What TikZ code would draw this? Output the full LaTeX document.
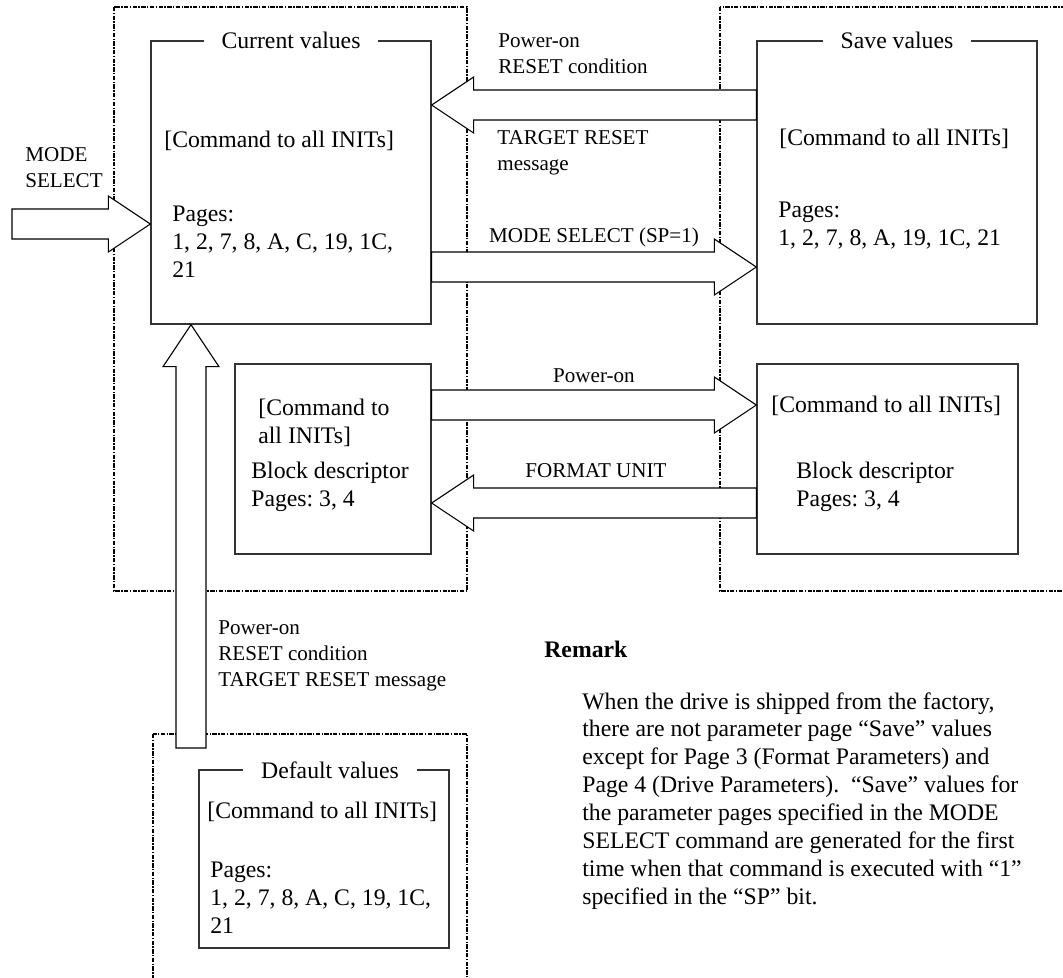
\documentclass[tikz,border=0pt]{standalone}
\usepackage{fontspec}
\setmainfont{Liberation Serif}
\usetikzlibrary{positioning}
\usetikzlibrary{calc}
\frenchspacing
\newcommand\boxfont{\fontsize{13.5}{15.9}\selectfont}
\newcommand\lblfont{\fontsize{12}{14.8}\selectfont}
\newcommand\fatarrow[2]{%
    \coordinate (fah) at ($(#2)!0.84cm!(#1)$);
    \draw[fatline] ($(#1)!0.3cm!90:(#2)$) -- ($(fah)!0.3cm!90:(#2)$) -- ($(fah)!0.56cm!90:(#2)$) -- (#2)
        -- ($(fah)!0.56cm!-90:(#2)$) -- ($(fah)!0.3cm!-90:(#2)$) -- ($(#1)!0.3cm!-90:(#2)$) -- cycle;
}
\tikzset{
    valbox/.style = {rectangle, draw=black!80, line width=0.8pt, inner sep=0pt},
    valtitle/.style = {fill=white, inner xsep=0.36cm, inner ysep=1pt, font=\boxfont},
    boxtext/.style = {anchor=west, align=left, inner sep=0pt, font=\boxfont},
    lbltext/.style = {anchor=west, align=left, inner sep=0pt, font=\lblfont},
    lblmid/.style = {inner sep=0pt, font=\lblfont},
    groupd/.style = {dash pattern=on 2.5pt off 0.8pt on 0.8pt off 0.8pt, line width=0.7pt},
    fatline/.style = {draw=black, fill=white, line width=0.6pt, line join=miter}
}
\begin{document}
\begin{tikzpicture}[x=0.02cm,y=-0.02cm]
\useasboundingbox (0,0) rectangle (1063,978);
%
\draw[groupd] (114,7) rectangle (467,591);
\draw[groupd] (720,7) rectangle (1075,591);
\draw[groupd] (153,734) rectangle (467,990);
%
\node[valbox, minimum width=5.6cm, minimum height=5.66cm] at (291,182.5) (cur) {};
\node[valbox, minimum width=5.6cm, minimum height=5.66cm] at (897,182.5) (save) {};
\node[valbox, minimum width=3.92cm, minimum height=3.8cm] at (333,459) (blkl) {};
\node[valbox, minimum width=5.22cm, minimum height=3.8cm] at (887.5,459) (blkr) {};
\node[valbox, minimum width=5cm, minimum height=3.56cm] at (324,859) (dflt) {};
%
\node[valtitle] at (cur.north) (curt) {Current values};
\node[valtitle] at (save.north) (savet) {Save values};
\node[valtitle] at (330,770) (dfltt) {Default values};
%
\node[boxtext] at (164,141) (curcmd) {[Command to all INITs]};
\node[boxtext] at (172,242) (curpg) {Pages:\\1, 2, 7, 8, A, C, 19, 1C,\\21};
\node[boxtext] at (779,139) (savecmd) {[Command to all INITs]};
\node[boxtext] at (778,226) (savepg) {Pages:\\1, 2, 7, 8, A, 19, 1C, 21};
\node[boxtext] at (258,423) (blklcmd) {[Command to\\all INITs]};
\node[boxtext] at (251,487) (blklpg) {Block descriptor\\Pages: 3, 4};
\node[boxtext] at (771,406) (blkrcmd) {[Command to all INITs]};
\node[boxtext] at (796,487) (blkrpg) {Block descriptor\\Pages: 3, 4};
\node[boxtext] at (207,812) (dfltcmd) {[Command to all INITs]};
\node[boxtext] at (210,898) (dfltpg) {Pages:\\1, 2, 7, 8, A, C, 19, 1C,\\21};
%
\node[lbltext] at (25,167.5) (msl) {MODE\\SELECT};
\node[lbltext] at (498,54) (rstl) {Power-on\\RESET condition};
\node[lbltext] at (497,153) (tgtl) {TARGET RESET\\message};
\node[lblmid] at (594,237) (spl) {MODE SELECT (SP=1)};
\node[lblmid] at (594,376) (pwrl) {Power-on};
\node[lblmid] at (596,471) (fmtl) {FORMAT UNIT};
\node[lbltext] at (218,656) (dfll) {Power-on\\RESET condition\\TARGET RESET message};
%
\node[anchor=west, inner sep=0pt, font=\boxfont\bfseries] at (544,649) (rmk) {Remark};
\node[anchor=west, align=left, inner sep=0pt, font=\fontsize{13.5}{15.9}\selectfont] at (582,801) (rmkt)
    {When the drive is shipped from the factory,\\
     there are not parameter page “Save” values\\
     except for Page 3 (Format Parameters) and\\
     Page 4 (Drive Parameters).\ \ “Save” values for\\
     the parameter pages specified in the MODE\\
     SELECT command are generated for the first\\
     time when that command is executed with “1”\\
     specified in the “SP” bit.};
%
\coordinate (msin) at (12,224);
\coordinate (dfin) at (191,748);
\fatarrow{save.west |- 0,105}{cur.east |- 0,105}
\fatarrow{cur.east |- 0,267}{save.west |- 0,267}
\fatarrow{blkl.east |- 0,405}{blkr.west |- 0,405}
\fatarrow{blkr.west |- 0,503}{blkl.east |- 0,503}
\fatarrow{msin}{cur.west |- msin}
\fatarrow{dfin}{dfin |- cur.south}
\end{tikzpicture}
\end{document}
